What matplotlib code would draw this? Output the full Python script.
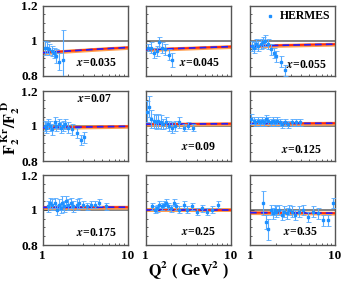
import matplotlib
matplotlib.use("Agg")
import matplotlib.pyplot as plt
import numpy as np
from matplotlib.ticker import FixedLocator, MultipleLocator, NullFormatter

plt.rcParams['font.family'] = ['Liberation Serif', 'DejaVu Serif']
plt.rcParams['font.weight'] = 'bold'
plt.rcParams['mathtext.fontset'] = 'stix'

x_labels = ["0.035", "0.045", "0.055", "0.07", "0.09", "0.125", "0.175", "0.25", "0.35"]

q2_data = [
    [1.06, 1.12, 1.2, 1.28, 1.36, 1.45, 1.55, 1.75],
    [1.08, 1.15, 1.25, 1.35, 1.45, 1.55, 1.7, 1.9, 2.05],
    [1.05, 1.1, 1.17, 1.25, 1.33, 1.42, 1.52, 1.62, 1.75, 1.9, 2.05, 2.3, 2.55],
    [1.05, 1.1, 1.15, 1.22, 1.3, 1.38, 1.45, 1.55, 1.65, 1.75, 1.85, 2.0, 2.2, 2.5, 2.8, 3.1],
    [1.05, 1.1, 1.17, 1.25, 1.33, 1.42, 1.52, 1.62, 1.75, 1.9, 2.05, 2.25, 2.5, 2.8, 3.2, 3.6],
    [1.04, 1.1, 1.16, 1.23, 1.3, 1.38, 1.46, 1.55, 1.65, 1.75, 1.85, 1.95, 2.1, 2.25, 2.4, 2.6, 2.8, 3.1, 3.5, 3.9],
    [1.16, 1.22, 1.3, 1.38, 1.46, 1.55, 1.62, 1.7, 1.8, 1.9, 2.0, 2.15, 2.3, 2.5, 2.7, 3.0, 3.3, 3.7, 4.1, 4.6, 5.5],
    [1.2, 1.28, 1.36, 1.45, 1.55, 1.65, 1.75, 1.85, 2.0, 2.15, 2.3, 2.5, 2.8, 3.1, 3.5, 4.0, 4.6, 5.3, 6.0, 7.1],
    [1.42, 1.55, 1.62, 1.75, 1.85, 1.95, 2.05, 2.2, 2.35, 2.5, 2.7, 2.9, 3.1, 3.4, 3.8, 4.2, 4.8, 5.5, 6.3, 7.3, 8.2, 9.5],
]
f_data = [
    [0.96, 0.96, 0.95, 0.94, 0.93, 0.91, 0.88, 0.89],
    [0.96, 0.96, 0.93, 0.94, 0.99, 0.96, 0.95, 0.92, 0.89],
    [0.97, 0.96, 0.98, 0.97, 0.98, 0.99, 1.0, 0.98, 0.95, 0.93, 0.91, 0.88, 0.83],
    [1.0, 0.99, 1.01, 1.0, 0.98, 1.02, 1.0, 1.01, 0.99, 1.0, 1.01, 0.99, 0.98, 0.96, 0.92, 0.935],
    [1.08, 1.11, 1.04, 1.03, 1.02, 1.03, 1.02, 1.01, 1.02, 1.0, 0.99, 1.0, 1.02, 0.99, 1.0, 0.99],
    [1.04, 1.03, 1.02, 1.03, 1.02, 1.03, 1.02, 1.04, 1.03, 1.02, 1.03, 1.02, 1.03, 1.02, 1.01, 1.02, 1.01, 1.02, 1.02, 1.02],
    [1.02, 1.04, 1.03, 1.04, 1.0, 1.03, 1.01, 1.04, 1.02, 1.05, 1.03, 1.04, 1.02, 1.03, 1.04, 1.03, 1.02, 1.03, 1.03, 1.04, 1.02],
    [1.02, 1.0, 1.01, 1.03, 1.02, 1.03, 1.04, 1.02, 1.01, 1.04, 1.02, 1.0, 1.03, 1.0, 1.02, 0.99, 1.01, 0.99, 1.0, 1.03],
    [1.04, 0.93, 0.89, 1.0, 0.98, 1.0, 0.99, 1.0, 0.97, 0.99, 0.98, 1.0, 0.99, 0.97, 0.99, 1.0, 0.96, 0.99, 0.98, 0.94, 0.94, 1.04],
]
err_data = [
    [0.04, 0.03, 0.03, 0.03, 0.03, 0.04, 0.05, 0.17],
    [0.02, 0.03, 0.03, 0.03, 0.03, 0.03, 0.03, 0.03, 0.04],
    [0.03, 0.03, 0.03, 0.03, 0.03, 0.03, 0.03, 0.03, 0.03, 0.03, 0.03, 0.03, 0.03],
    [0.03, 0.03, 0.03, 0.03, 0.03, 0.03, 0.03, 0.03, 0.03, 0.03, 0.03, 0.03, 0.03, 0.03, 0.03, 0.03],
    [0.06, 0.06, 0.05, 0.04, 0.04, 0.04, 0.04, 0.03, 0.03, 0.03, 0.03, 0.03, 0.03, 0.02, 0.02, 0.02],
    [0.03, 0.02, 0.02, 0.02, 0.02, 0.02, 0.02, 0.02, 0.02, 0.02, 0.02, 0.02, 0.02, 0.02, 0.02, 0.02, 0.02, 0.02, 0.02, 0.02],
    [0.03, 0.03, 0.03, 0.03, 0.03, 0.03, 0.03, 0.04, 0.03, 0.03, 0.03, 0.03, 0.03, 0.03, 0.03, 0.02, 0.02, 0.02, 0.02, 0.02, 0.02],
    [0.02, 0.02, 0.02, 0.02, 0.02, 0.02, 0.02, 0.02, 0.02, 0.02, 0.02, 0.02, 0.02, 0.02, 0.02, 0.02, 0.02, 0.02, 0.02, 0.02],
    [0.07, 0.04, 0.06, 0.03, 0.03, 0.03, 0.03, 0.03, 0.03, 0.03, 0.03, 0.03, 0.03, 0.03, 0.03, 0.03, 0.03, 0.03, 0.03, 0.03, 0.03, 0.03],
]

q2_theory = [1, 2, 5, 10]
f_theory = [
    [0.930, 0.940, 0.952, 0.960],
    [0.948, 0.953, 0.960, 0.965],
    [0.968, 0.972, 0.976, 0.979],
    [0.990, 0.993, 0.996, 0.998],
    [1.010, 1.011, 1.012, 1.013],
    [1.013, 1.014, 1.015, 1.016],
    [1.015, 1.015, 1.016, 1.016],
    [1.000, 1.000, 1.000, 1.000],
    [0.985, 0.984, 0.983, 0.982],
]

fig = plt.figure(figsize=(3.41, 2.82), dpi=100)
W, H = 341, 282
col_x = [42.7, 145.5, 250]
row_y = [5.5, 91, 175]
pw, ph = 85, 70

# (x, y, ha) in axes fraction
label_pos = [
    (0.87, 0.18, 'right'), (0.88, 0.18, 'right'), (0.91, 0.15, 'right'),
    (0.61, 0.88, 'center'), (0.63, 0.20, 'center'), (0.85, 0.16, 'right'),
    (0.88, 0.17, 'right'), (0.63, 0.18, 'center'), (0.59, 0.19, 'center'),
]

for i in range(9):
    r, c = divmod(i, 3)
    ax = fig.add_axes([col_x[c] / W, 1 - (row_y[r] + ph) / H, pw / W, ph / H])
    ax.set_xscale('log')
    ax.set_xlim(1, 10)
    ax.set_ylim(0.8, 1.2)
    ax.axhline(1.0, color='#777777', lw=1.3, zorder=1)
    th = np.array(f_theory[i])
    ax.fill_between(q2_theory, th - 0.011, th + 0.011, color='#ffa050', lw=0, zorder=2)
    ax.plot(q2_theory, th, color='#ff2a10', lw=1.4, zorder=3)
    ax.plot(q2_theory, th, color='#2020ff', lw=1.2, ls=(0, (4, 2.5)), zorder=4)
    ax.errorbar(q2_data[i], f_data[i], yerr=err_data[i], fmt='s', ms=1.8,
                color='#1e90ff', ecolor='#55aaff', elinewidth=0.8, capsize=1.8,
                capthick=0.6, zorder=5)
    ax.yaxis.set_major_locator(FixedLocator([0.8, 1.0, 1.2]))
    ax.yaxis.set_minor_locator(MultipleLocator(0.05))
    ax.tick_params(which='both', direction='in', top=False, right=False,
                   labelsize=9.5, width=0.6, colors='#444444', labelcolor='black')
    ax.tick_params(which='major', length=3)
    ax.tick_params(which='minor', length=1.5)
    ax.xaxis.set_major_locator(FixedLocator([1, 10]))
    ax.xaxis.set_minor_formatter(NullFormatter())
    if c == 0:
        ax.set_yticklabels(['0.8', '1', '1.2'], fontweight='bold')
    else:
        ax.set_yticklabels([])
    if r == 2:
        ax.set_xticklabels(['1', '10'], fontweight='bold')
    else:
        ax.set_xticklabels([])
    for s in ax.spines.values():
        s.set_color('#555555')
        s.set_linewidth(1.0)
    lx, ly, ha = label_pos[i]
    ax.text(lx, ly, r'$\mathit{x}$' + '=' + x_labels[i], transform=ax.transAxes,
            ha=ha, va='center', fontsize=8.5, fontweight='bold')
    if i == 2:
        ax.plot([0.23], [0.85], 's', ms=2, color='#1e90ff', transform=ax.transAxes)
        ax.text(0.35, 0.85, 'HERMES', transform=ax.transAxes, ha='left', va='center',
                fontsize=8.5, fontweight='bold')

fig.text(11 / W, 1 - 128 / H, r'$\mathbf{F_{2}^{\ Kr}/F_{2}^{\ D}}$', rotation=90,
         ha='center', va='center', fontsize=11.5)
fig.text(188 / W, 1 - 270 / H, r'$\mathbf{Q^{2}}$ ( GeV$^{\mathbf{2}}$ )', ha='center',
         va='center', fontsize=11.5, fontweight='bold')

fig.savefig('out.png', dpi=100)
